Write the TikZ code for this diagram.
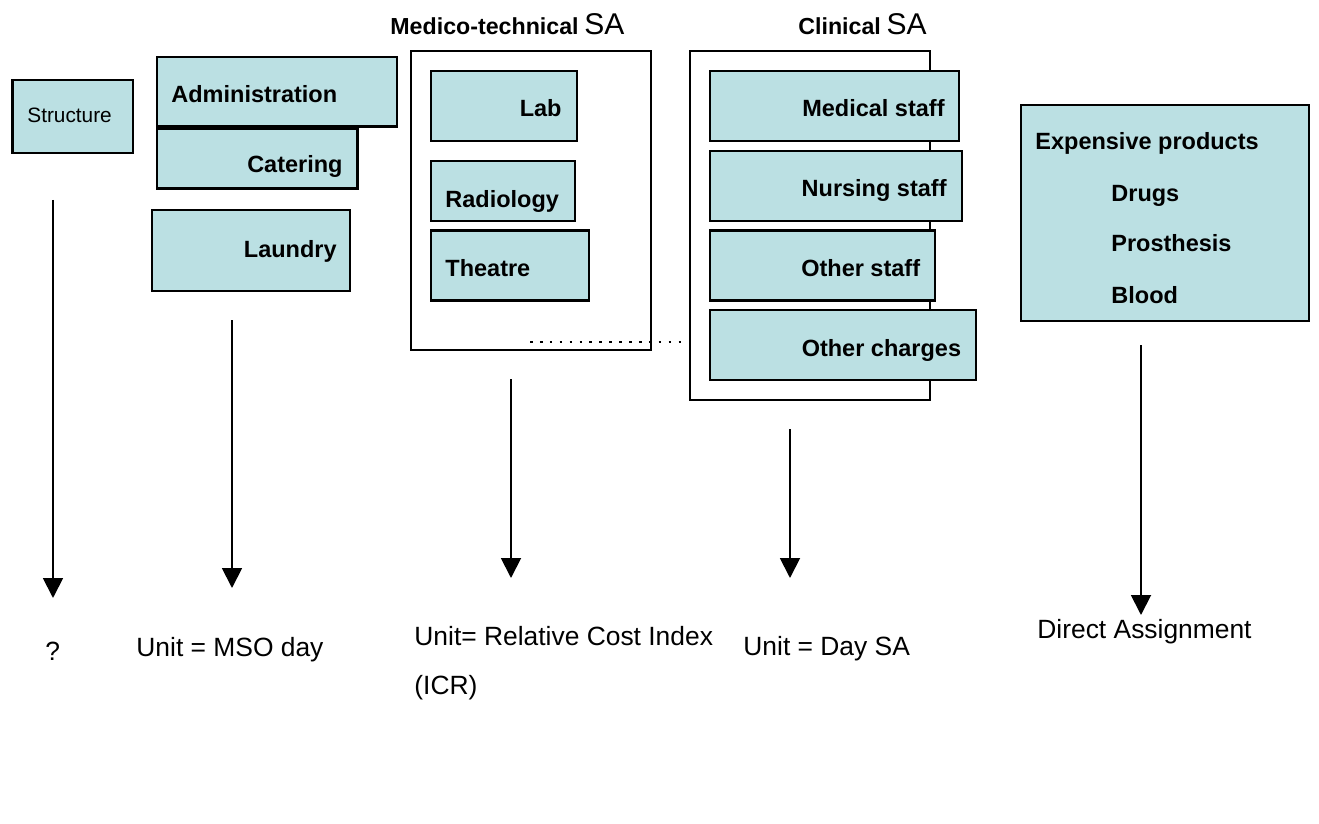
\documentclass[tikz,border=0pt]{standalone}
\usepackage{fontspec}
\setmainfont{Liberation Sans}
\usetikzlibrary{arrows.meta,fit}
\definecolor{boxfill}{HTML}{BBE0E3}
\tikzset{
  box/.style={draw=black, fill=boxfill, line width=1.05pt, inner sep=0pt, rectangle},
  frame/.style={draw=black, fill=white, line width=1pt, inner sep=0pt, rectangle},
  blbl/.style={font=\fontsize{11.75}{14}\selectfont\bfseries, inner sep=0pt},
  tlbl/.style={font=\fontsize{11.6}{14}\selectfont\bfseries, inner sep=0pt},
  salbl/.style={font=\fontsize{15}{18}\selectfont, inner sep=0pt},
  ulbl/.style={font=\fontsize{13.2}{16}\selectfont, inner sep=0pt},
  arr/.style={line width=0.95pt, -{Triangle[length=10pt,width=10pt]}},
}
\begin{document}
\begin{tikzpicture}[x=0.5pt,y=-0.5pt]
\useasboundingbox (0,0) rectangle (1319,824);
\fill[white] (0,0) rectangle (1319,824);

% Structure
\node[box, fit={(12.5,80)(133,153)}] (struct) {};
\node[inner sep=0pt, font=\fontsize{10.4}{12}\selectfont, anchor=base west] (structt) at (27,123) {Structure};

% Administration group
\node[box, fit={(157,57)(397,126.5)}] (adm) {};
\node[blbl, anchor=base west] (admt) at (171,103) {Administration};
\node[box, fit={(157,129)(357.5,188.5)}] (cat) {};
\node[blbl, anchor=base east] (catt) at (343,173) {Catering};
\node[box, fit={(152,210)(350,291)}] (lau) {};
\node[blbl, anchor=base east] (laut) at (337,257) {Laundry};

% Medico-technical SA
\node[tlbl, anchor=base west] (medt) at (390,35) {Medico-technical};
\node[salbl, anchor=base west] (medsa) at ([xshift=2.5pt]medt.base east) {SA};
\node[frame, fit={(411,51)(651,350)}] (med) {};
\node[box, fit={(431,71)(577,141)}] (lab) {};
\node[blbl, anchor=base east] (labt) at (562,117) {Lab};
\node[box, fit={(431,161)(575,221)}] (rad) {};
\node[blbl, anchor=base west] (radt) at (445,207) {Radiology};
\node[box, fit={(431,230.5)(589,300.5)}] (the) {};
\node[blbl, anchor=base west] (thet) at (445,277) {Theatre};

% dotted link
\coordinate (d1) at (530,342);
\coordinate (d2) at (682,342);
\draw[line width=1.4pt, dash pattern=on 1.3pt off 3.65pt] (d1) -- (d2);

% Clinical SA
\node[tlbl, anchor=base west] (clit) at (798,35) {Clinical};
\node[salbl, anchor=base west] (clisa) at ([xshift=2.5pt]clit.base east) {SA};
\node[frame, fit={(689.5,51)(929.5,400)}] (cli) {};
\node[box, fit={(710,71)(959,141)}] (mst) {};
\node[blbl, anchor=base east] (mstt) at (945,117) {Medical staff};
\node[box, fit={(710,151)(962,221)}] (nst) {};
\node[blbl, anchor=base east] (nstt) at (947,197) {Nursing staff};
\node[box, fit={(710,230.5)(935,300.5)}] (ost) {};
\node[blbl, anchor=base east] (ostt) at (920.5,277) {Other staff};
\node[box, fit={(710,310)(976,380)}] (och) {};
\node[blbl, anchor=base east] (ocht) at (961.5,357) {Other charges};

% Expensive products
\node[box, fit={(1021,105)(1309,321)}] (exp) {};
\node[blbl, anchor=base west] (expt) at (1035,150) {Expensive products};
\node[blbl, anchor=base west] (drg) at (1111,202) {Drugs};
\node[blbl, anchor=base west] (pro) at (1111,252) {Prosthesis};
\node[blbl, anchor=base west] (blo) at (1111,304) {Blood};

% Arrows
\coordinate (a1s) at (53,200);   \coordinate (a1e) at (53,598);
\coordinate (a2s) at (232,320);  \coordinate (a2e) at (232,588);
\coordinate (a3s) at (511,379);  \coordinate (a3e) at (511,578);
\coordinate (a4s) at (790,429);  \coordinate (a4e) at (790,578);
\coordinate (a5s) at (1141,345); \coordinate (a5e) at (1141,615);
\draw[arr] (a1s) -- (a1e);
\draw[arr] (a2s) -- (a2e);
\draw[arr] (a3s) -- (a3e);
\draw[arr] (a4s) -- (a4e);
\draw[arr] (a5s) -- (a5e);

% Bottom labels
\node[ulbl, anchor=base west] (q) at (45,660) {?};
\node[ulbl, anchor=base west] (u1) at (136,656) {Unit = MSO day};
\node[ulbl, anchor=base west] (u2) at (414,645) {Unit= Relative Cost Index};
\node[ulbl, anchor=base west] (u2b) at (414,694) {(ICR)};
\node[ulbl, anchor=base west] (u3) at (743,655) {Unit = Day SA};
\node[ulbl, anchor=base west] (u4) at (1037,638) {Direct Assignment};
\end{tikzpicture}
\end{document}
